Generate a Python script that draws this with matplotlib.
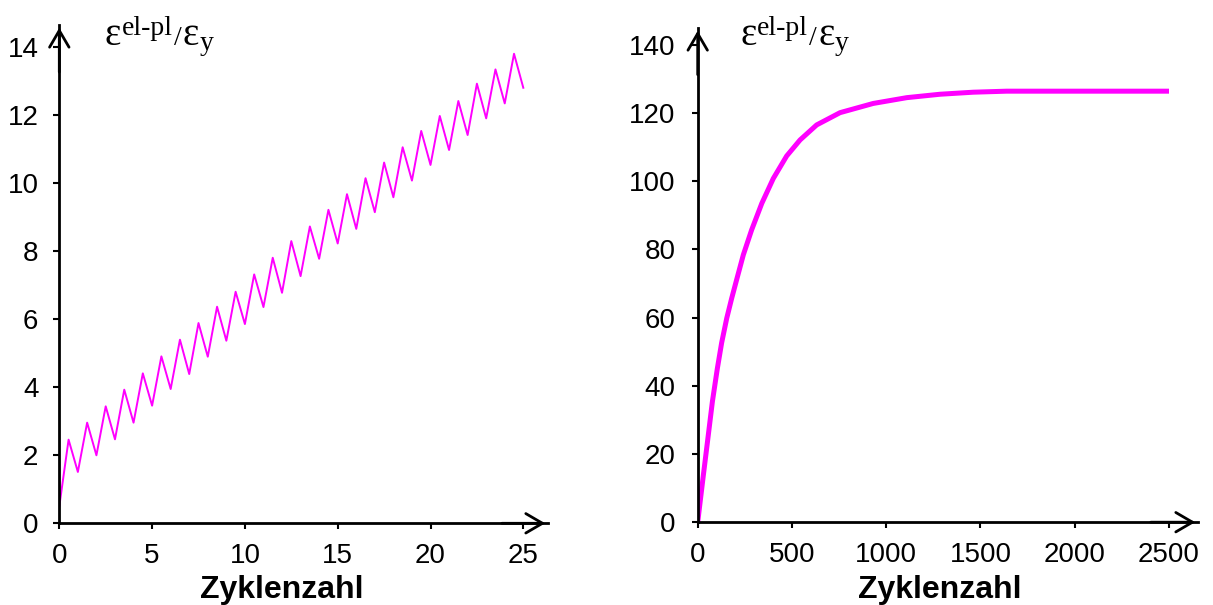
import matplotlib.pyplot as plt
import numpy as np

plt.rcParams['font.family'] = ['Liberation Sans', 'DejaVu Sans']

# Left chart: ratchetting over the first cycles (troughs at whole cycles, peaks at half cycles)
trough_cycles = list(range(0, 25))
trough_values = [0.5, 1.51, 2.0, 2.47, 2.96, 3.46, 3.95, 4.39, 4.9, 5.37, 5.86, 6.36, 6.78,
                 7.27, 7.78, 8.23, 8.66, 9.15, 9.59, 10.08, 10.54, 10.98, 11.42, 11.91, 12.35]
peak_cycles = [c + 0.5 for c in range(0, 25)]
peak_values = [2.46, 2.96, 3.44, 3.93, 4.41, 4.91, 5.40, 5.89, 6.37, 6.81, 7.32, 7.81, 8.3,
               8.73, 9.22, 9.68, 10.15, 10.61, 11.06, 11.54, 11.98, 12.42, 12.93, 13.35, 13.81]
end_cycle = 25
end_value = 12.81

# Right chart: saturation over many cycles
long_cycles = [0, 30, 53, 78, 104, 127, 154, 180, 207, 242, 286, 340, 401, 472, 543, 631,
               755, 931, 1109, 1285, 1462, 1639, 2000, 2500]
long_values = [0, 13.8, 24.1, 35.4, 45.0, 52.6, 59.8, 65.6, 71.2, 78.4, 85.7, 93.5, 100.8,
               107.4, 112.1, 116.5, 120.1, 122.8, 124.5, 125.5, 126.1, 126.4, 126.4, 126.4]

left_xticks = [0, 5, 10, 15, 20, 25]
left_yticks = [0, 2, 4, 6, 8, 10, 12, 14]
right_xticks = [0, 500, 1000, 1500, 2000, 2500]
right_yticks = [0, 20, 40, 60, 80, 100, 120, 140]

# interleave troughs and peaks into one zigzag
saw_x, saw_y = [], []
for tc, tv, pc, pv in zip(trough_cycles, trough_values, peak_cycles, peak_values):
    saw_x += [tc, pc]
    saw_y += [tv, pv]
saw_x.append(end_cycle)
saw_y.append(end_value)

W, H = 1213, 605
fig = plt.figure(figsize=(W / 100, H / 100), dpi=100)
renderer = fig.canvas.get_renderer()

magenta = '#ff00ff'


def strain_label(x0):
    # epsilon^{el-pl} / epsilon_y built from pieces, each starting where the last one ends
    pieces = [('ε', 28, 45, 1), ('el-pl', 20, 35, 1), ('/', 20, 45, 1),
              ('ε', 28, 45, 0), ('y', 20, 50, 0)]
    x = x0
    for s, size, base, gap in pieces:
        t = fig.text(x / W, (H - base) / H, s, fontsize=size, family='Liberation Serif',
                     ha='left', va='baseline')
        x += t.get_window_extent(renderer).width + gap


def make_axes(x0, x_end, y0, y_end, ypad, label_x):
    ax = fig.add_axes([x0 / W, (H - y0) / H, (x_end - x0) / W, (y0 - y_end) / H])
    for s in ['top', 'right']:
        ax.spines[s].set_visible(False)
    for s in ['left', 'bottom']:
        ax.spines[s].set_linewidth(2)
    ax.tick_params(length=4, width=1.5, labelsize=20, colors='black')
    ax.tick_params(axis='y', pad=ypad)
    ax.tick_params(axis='x', pad=10)
    arrow = dict(arrowstyle='->,head_length=0.6,head_width=0.35',
                 lw=2, color='black', mutation_scale=20)
    ax.annotate('', xy=(1, 0), xytext=(0.9, 0), xycoords='axes fraction', arrowprops=arrow)
    ax.annotate('', xy=(0, 1), xytext=(0, 0.9), xycoords='axes fraction', arrowprops=arrow)
    fig.text(label_x / W, (H - 598) / H, 'Zyklenzahl', fontsize=23, fontweight='bold',
             ha='center', va='baseline')
    return ax


# left panel
ax1 = make_axes(59.3, 548, 523.3, 25, 11, 281.5)
ax1.plot(saw_x, saw_y, color=magenta, lw=1.4)
ax1.set_xlim(0, (548 - 59.3) / 18.56)
ax1.set_ylim(0, (523.3 - 25) / 34.0)
ax1.set_xticks(left_xticks)
ax1.set_yticks(left_yticks)
strain_label(105)

# right panel
ax2 = make_axes(697.7, 1198, 522.2, 28, 12, 939.7)
ax2.plot(long_cycles, long_values, color=magenta, lw=3.6, solid_capstyle='butt',
         solid_joinstyle='round')
ax2.set_xlim(0, (1198 - 697.7) / 0.18852)
ax2.set_ylim(0, (522.2 - 28) / 3.41)
ax2.set_xticks(right_xticks)
ax2.set_yticks(right_yticks)
strain_label(740)

fig.savefig('out.png', dpi=100)
